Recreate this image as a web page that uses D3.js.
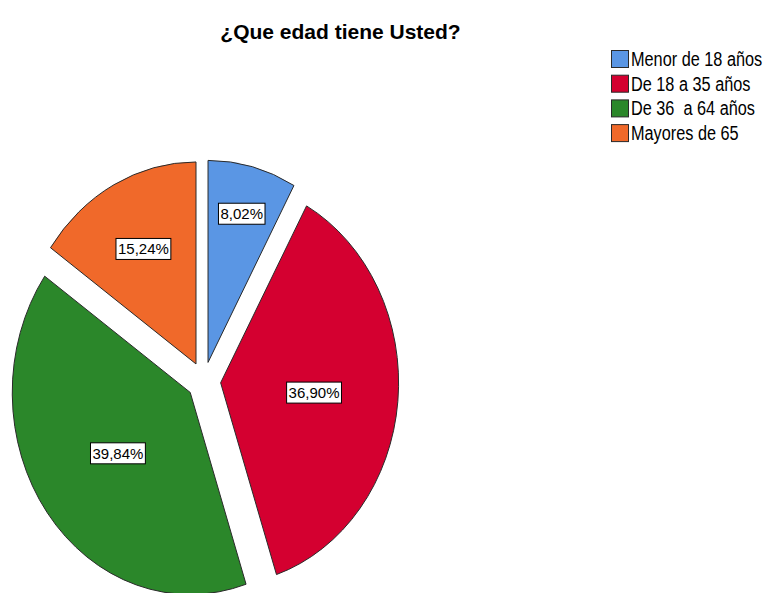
<!DOCTYPE html>
<html>
<head>
<meta charset="utf-8">
<script src="https://cdn.jsdelivr.net/npm/d3@7"></script>
<style>
  html, body { margin: 0; padding: 0; background: #ffffff; }
  svg { display: block; }
  text { font-family: "Liberation Sans", Arial, sans-serif; }
</style>
</head>
<body>
<svg id="chart" width="765" height="593"></svg>
<script>
// Survey answers: share of respondents per age group (percent)
const categories = ["Menor de 18 años", "De 18 a 35 años", "De 36  a 64 años", "Mayores de 65"];
const percentages = [8.02, 36.90, 39.84, 15.24];
const chartTitle = "¿Que edad tiene Usted?";

// Drawing settings
const palette = ["#5A96E4", "#D40030", "#2B872A", "#F0692A"];
const cx = 203.8, cy = 381;       // pie centre
const R = 202;                    // vertical radius
const squeezeX = 0.881;           // horizontal squeeze of the pie
const explode = 19.2;             // distance each slice is pulled out

const svg = d3.select("#chart");

const data = categories.map((c, i) => ({ category: c, value: percentages[i], color: palette[i] }));

const pie = d3.pie().sort(null).value(d => d.value);
const arcs = pie(data);

const arc = d3.arc().innerRadius(0).outerRadius(R);

const pieG = svg.append("g")
  .attr("transform", `translate(${cx},${cy}) scale(${squeezeX},1)`);

pieG.selectAll("path.slice")
  .data(arcs)
  .join("path")
  .attr("class", "slice")
  .attr("d", arc)
  .attr("transform", d => {
    const a = (d.startAngle + d.endAngle) / 2;
    return `translate(${explode * Math.sin(a)},${-explode * Math.cos(a)})`;
  })
  .attr("fill", d => d.data.color)
  .attr("stroke", "#2a2a2a")
  .attr("stroke-width", 1)
  .attr("vector-effect", "non-scaling-stroke");

// Value labels: boxed, placed at the sector centroid (pushed outward for thin slices)
const fmt = v => d3.format(".2f")(v).replace(".", ",") + "%";

const labelG = svg.append("g");
arcs.forEach(d => {
  const a = (d.startAngle + d.endAngle) / 2;
  const half = (d.endAngle - d.startAngle) / 2;
  let frac = (2 / 3) * Math.sin(half) / half;
  if (d.data.value < 10) frac = 0.76;
  const dist = explode + frac * R;
  const x = cx + squeezeX * dist * Math.sin(a);
  const y = cy - dist * Math.cos(a);

  const g = labelG.append("g").attr("transform", `translate(${x},${y})`);
  const rect = g.append("rect").attr("fill", "#ffffff").attr("stroke", "#000000").attr("stroke-width", 1);
  const t = g.append("text")
    .attr("text-anchor", "middle")
    .attr("dominant-baseline", "central")
    .attr("font-size", 15)
    .attr("fill", "#000000")
    .text(fmt(d.data.value));
  const bb = t.node().getBBox();
  const w = bb.width + 4, h = 21;
  rect.attr("x", -w / 2).attr("y", -h / 2).attr("width", w).attr("height", h);
});

// Title
svg.append("text")
  .attr("x", 340.5)
  .attr("y", 39)
  .attr("text-anchor", "middle")
  .attr("font-size", 21)
  .attr("font-weight", "bold")
  .attr("fill", "#000000")
  .text(chartTitle);

// Legend
const legend = svg.append("g").attr("transform", "translate(611,50)");
const rowH = 24.7;
const items = legend.selectAll("g.item")
  .data(data)
  .join("g")
  .attr("class", "item")
  .attr("transform", (d, i) => `translate(0,${i * rowH})`);

items.append("rect")
  .attr("x", 0.5).attr("y", 0.5)
  .attr("width", 17).attr("height", 17)
  .attr("fill", d => d.color)
  .attr("stroke", "#2a2a2a")
  .attr("stroke-width", 1);

items.append("text")
  .attr("transform", "translate(20,16) scale(0.835,1)")
  .attr("font-size", 19.5)
  .attr("fill", "#000000")
  .style("white-space", "pre")
  .attr("xml:space", "preserve")
  .text(d => d.category);
</script>
</body>
</html>
